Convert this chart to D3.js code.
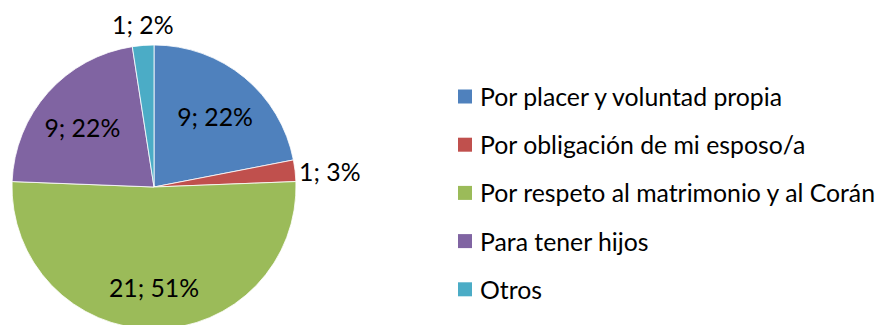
<!DOCTYPE html>
<html>
<head>
<meta charset="utf-8">
<script src="https://cdn.jsdelivr.net/npm/d3@7"></script>
<style>
  html, body { margin: 0; padding: 0; background: #fff; }
  svg { display: block; }
  text { font-family: Lato, "Open Sans", sans-serif; fill: #000; }
</style>
</head>
<body>
<svg id="chart" width="880" height="325"></svg>
<script>
// Motivos declarados
const categories = [
  "Por placer y voluntad propia",
  "Por obligación de mi esposo/a",
  "Por respeto al matrimonio y al Corán",
  "Para tener hijos",
  "Otros"
];
const values = [9, 1, 21, 9, 1];
const percentLabels = ["22%", "3%", "51%", "22%", "2%"];
const colors = ["#4F81BD", "#C0504D", "#9BBB59", "#8064A2", "#4BACC6"];

const W = 880, H = 325;
const cx = 154, cy = 187, radius = 142;
const fontSize = 24.8;

const svg = d3.select("#chart");

const data = categories.map((c, i) => ({
  name: c, value: values[i], pct: percentLabels[i], color: colors[i]
}));

const pie = d3.pie().value(d => d.value).sort(null);
const arcs = pie(data);
const arc = d3.arc().innerRadius(0).outerRadius(radius);

const g = svg.append("g").attr("transform", `translate(${cx},${cy})`);

g.selectAll("path.slice")
  .data(arcs)
  .join("path")
  .attr("class", "slice")
  .attr("d", arc)
  .attr("fill", d => d.data.color)
  .attr("stroke", "#fff")
  .attr("stroke-width", 0.8);

// Data labels: inside for large slices, outside for small ones
const inner = d3.arc().innerRadius(96).outerRadius(96);
const labelText = d => `${d.data.value}; ${d.data.pct}`;

arcs.forEach(d => {
  const frac = (d.endAngle - d.startAngle) / (2 * Math.PI);
  const mid = (d.startAngle + d.endAngle) / 2;
  if (frac > 0.1) {
    const [x, y] = inner.centroid(d);
    g.append("text")
      .attr("x", x).attr("y", y + 4)
      .attr("text-anchor", "middle")
      .attr("dominant-baseline", "central")
      .style("font-size", fontSize + "px")
      .text(labelText(d));
  } else {
    const s = Math.sin(mid), c = -Math.cos(mid);
    const r = radius + 4;
    const x = r * s, y = r * c;
    const t = g.append("text").style("font-size", fontSize + "px").text(labelText(d));
    if (Math.abs(s) > 0.5) {
      t.attr("x", x + (s > 0 ? 0 : -1)).attr("y", y + 1)
       .attr("text-anchor", s > 0 ? "start" : "end")
       .attr("dominant-baseline", "central");
    } else {
      t.attr("x", x).attr("y", y - 7)
       .attr("text-anchor", "middle")
       .attr("dominant-baseline", c < 0 ? "auto" : "hanging");
    }
  }
});

// Legend
const legendX = 458, legendY0 = 96.5, legendStep = 48.2, sw = 14;
const legend = svg.append("g");
const rows = legend.selectAll("g.row")
  .data(data)
  .join("g")
  .attr("class", "row")
  .attr("transform", (d, i) => `translate(${legendX},${legendY0 + i * legendStep})`);

rows.append("rect")
  .attr("x", 0).attr("y", -sw / 2)
  .attr("width", sw).attr("height", sw)
  .attr("fill", d => d.color);

rows.append("text")
  .attr("x", 22).attr("y", 0)
  .attr("dominant-baseline", "central")
  .style("font-size", fontSize + "px")
  .text(d => d.name);
</script>
</body>
</html>
